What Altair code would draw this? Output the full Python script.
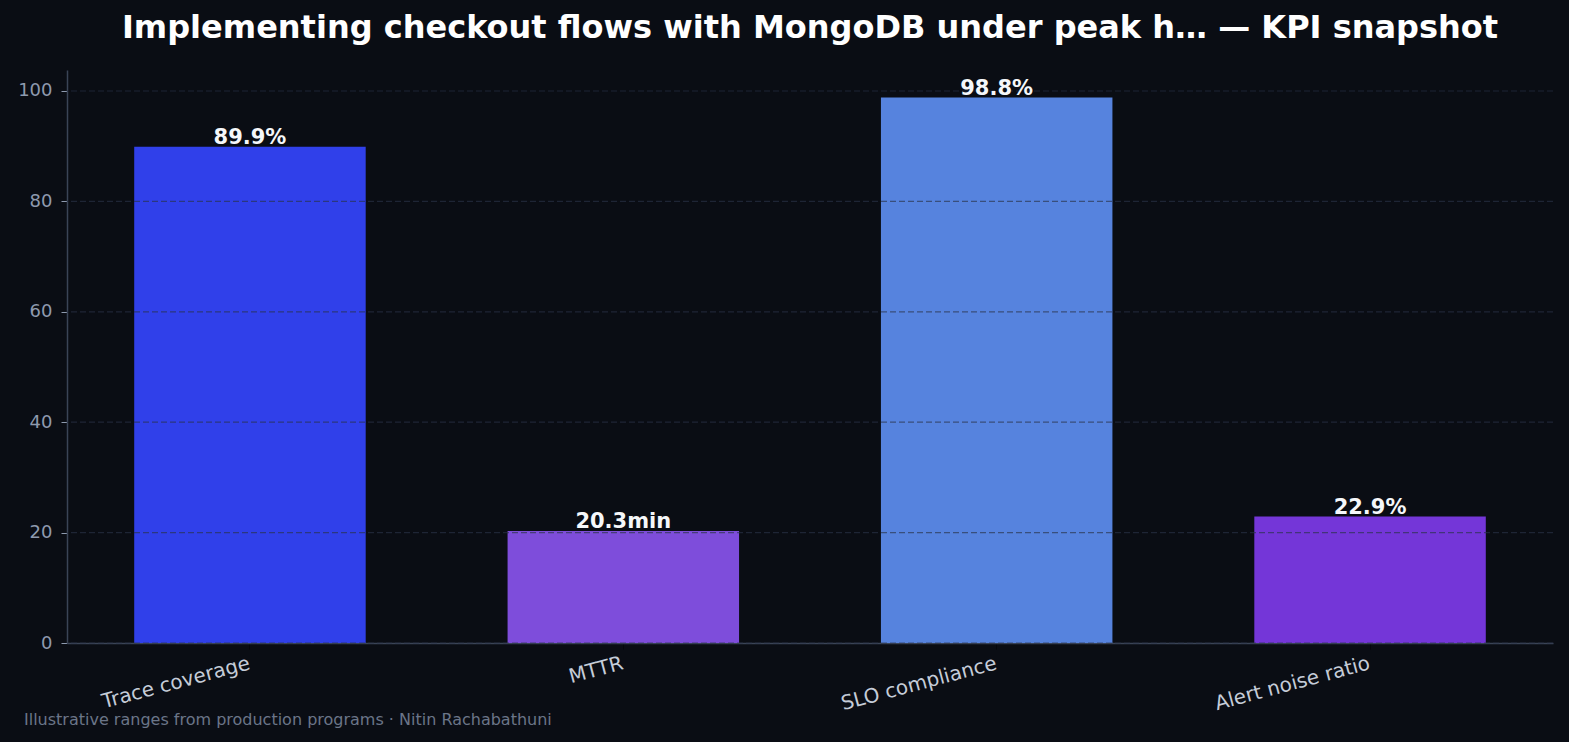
import altair as alt
import pandas as pd

# KPI snapshot values
categories = ["Trace coverage", "MTTR", "SLO compliance", "Alert noise ratio"]
values = [89.9, 20.3, 98.8, 22.9]
labels = ["89.9%", "20.3min", "98.8%", "22.9%"]
bar_colors = ["#3040EA", "#7E4DDB", "#5683DE", "#7436D8"]
grid_ticks = [0, 20, 40, 60, 80, 100]

BG = "#0A0D14"
FONT = "DejaVu Sans"

df = pd.DataFrame({"kpi": categories, "value": values, "label": labels})
grid_df = pd.DataFrame({"tick": grid_ticks})

x_scale = alt.Scale(domain=categories, paddingInner=0.38, paddingOuter=0.18)
y_scale = alt.Scale(domain=[0, 103.8], nice=False, zero=True)

bars = alt.Chart(df).mark_bar().encode(
    x=alt.X("kpi:N", scale=x_scale, sort=categories,
            axis=alt.Axis(title=None, labelAngle=-15, labelAlign="right",
                          labelBaseline="top", labelFontSize=20, labelColor="#C5CCD8",
                          labelFont=FONT, tickColor="#05070B", tickSize=6,
                          domainColor="#3A4456", domainWidth=1.5, labelPadding=4,
                          labelOffset=-3, grid=False)),
    y=alt.Y("value:Q", scale=y_scale,
            axis=alt.Axis(title=None, values=grid_ticks, labelFontSize=18,
                          labelColor="#8E9AAE", labelFont=FONT, tickColor="#8E9AAE",
                          tickSize=6, domainColor="#3A4456", domainWidth=1.5,
                          labelPadding=9, grid=False)),
    color=alt.Color("kpi:N", scale=alt.Scale(domain=categories, range=bar_colors),
                    legend=None),
)

# dashed gridlines drawn above the bars, below the value labels
grid = alt.Chart(grid_df).mark_rule(
    color="#2A3347", strokeDash=[6, 3], strokeWidth=1.2, opacity=0.65
).encode(y=alt.Y("tick:Q", scale=y_scale))

text = alt.Chart(df).mark_text(
    font=FONT, fontWeight="bold", fontSize=21, color="#F5F7FA",
    baseline="alphabetic", dy=-3
).encode(
    x=alt.X("kpi:N", scale=x_scale, sort=categories),
    y=alt.Y("value:Q", scale=y_scale),
    text="label:N",
)

footer = alt.Chart(pd.DataFrame({"t": ["Illustrative ranges from production programs · Nitin Rachabathuni"]})).mark_text(
    font=FONT, fontSize=16, color="#6B7588", align="left", baseline="middle"
).encode(x=alt.value(-43), y=alt.value(650), text="t:N")

chart = alt.layer(bars, grid, text, footer).properties(
    width=1486,
    height=573,
    background=BG,
    autosize=alt.AutoSizeParams(type="none"),
    padding={"left": 67, "top": 70, "right": 16, "bottom": 99},
    title=alt.TitleParams(
        "Implementing checkout flows with MongoDB under peak h… — KPI snapshot",
        font=FONT, fontSize=32, fontWeight="bold", color="#FFFFFF",
        anchor="middle", offset=25,
    ),
).configure_view(stroke=None)

chart.save("out.html", embed_options={"renderer": "svg", "actions": False})
